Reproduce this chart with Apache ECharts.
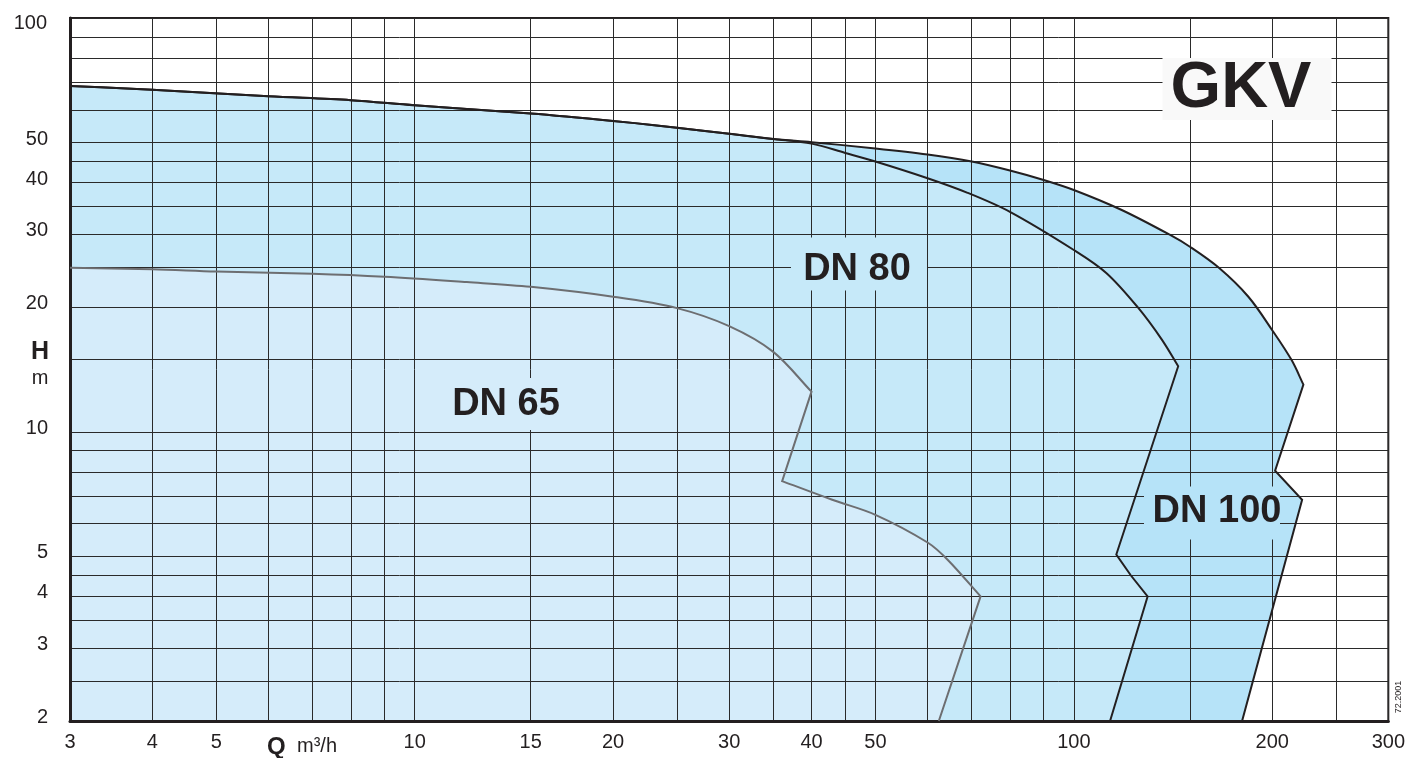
<!DOCTYPE html>
<html><head><meta charset="utf-8">
<script src="https://cdn.jsdelivr.net/npm/echarts@6/dist/echarts.min.js"></script>
<style>html,body{margin:0;padding:0;background:#fff}#c{width:1408px;height:758px}</style>
</head><body><div id="c"></div>
<script>
// ---- axis values ----
const xMin = 3, xMax = 300, yMin = 2, yMax = 100;
const xGridValues = [3,4,5,6,7,8,9,10,15,20,25,30,35,40,45,50,60,70,80,90,100,150,200,250,300];
const xTickLabels = [3,4,5,10,15,20,30,40,50,100,200,300];
const yGridValues = [2,2.5,3,3.5,4,4.5,5,6,7,8,9,10,15,20,25,30,35,40,45,50,60,70,80,90,100];
const yTickLabels = [2,3,4,5,10,20,30,40,50];
const yTopLabel = 100;

// ---- curves [Q m3/h, H m] ----
const topCurve = [[3,68.5],[4,67.1],[6,64.7],[8,63.3],[10,61.5],[15,58.8],[20,56.4],[25,54.3],[30,52.5],[35,51.0]];
const dn100Curve = [[40,50.1],[50,48.4],[60,46.8],[70,45.0],[80,42.8],[90,40.6],[100,38.4],[118,34.4],[140,29.9],[150,28.0],[166,24.9],[184,21.2],[200,17.6],[214,14.9],[223,13.0]];
const dn100Foot = [[202,8.05],[222,6.85],[180,2.0]];
const dn80Curve = [[40,49.7],[45,47.2],[50,45.0],[60,41.0],[69,37.8],[80,34.0],[100,27.5],[112,24.2],[125,20.0],[136,16.7],[144,14.4]];
const dn80Foot = [[116,5.05],[122,4.5],[129.4,4.0],[113.5,2.0]];
const dn65Upper = [[3,24.9],[4,24.7],[5,24.4],[7,24.1],[9,23.7],[12,23.0],[15,22.4],[20,21.2],[25,19.9],[30,18.0],[35,15.6],[40,12.5]];
const dn65Lower = [[36.1,7.6],[43,6.85],[50,6.3],[60,5.4],[64.4,4.9],[72.2,4.0]];
const dn65Foot = [[62.4,2.0]];

const regionNames = ['DN 100','DN 80','DN 65'];
const regionColors = ['#b6e3f8','#c6e9f9','#d5ecfa'];

const FONT = "'Liberation Sans', Arial, Helvetica, sans-serif";
const INK = '#231f20';

// outlines as segments: smooth runs and straight runs
const dn100Segs = [{ smooth: true, pts: topCurve.concat(dn100Curve) }, { smooth: false, pts: dn100Foot }];
const dn80Segs = [{ smooth: true, pts: topCurve.concat(dn80Curve) }, { smooth: false, pts: dn80Foot }];
const dn65Segs = [{ smooth: true, pts: dn65Upper }, { smooth: false, pts: [dn65Lower[0]] }, { smooth: true, pts: dn65Lower }, { smooth: false, pts: dn65Foot }];

function f(n) { return n.toFixed(2); }
function dist(a, b) { return Math.hypot(b[0] - a[0], b[1] - a[1]) || 1e-6; }
function buildPath(segs, api, close) {
  let d = '';
  let started = false;
  segs.forEach(seg => {
    const P = seg.pts.map(p => api.coord(p));
    if (seg.smooth) {
      d += (started ? ' L' : 'M') + f(P[0][0]) + ' ' + f(P[0][1]);
      started = true;
      const n = P.length;
      const D = [];
      for (let i = 0; i < n - 1; i++) D.push(dist(P[i], P[i + 1]));
      const M = P.map((p, i) => {
        if (i === 0) return [(P[1][0] - p[0]) / D[0], (P[1][1] - p[1]) / D[0]];
        if (i === n - 1) return [(p[0] - P[i - 1][0]) / D[i - 1], (p[1] - P[i - 1][1]) / D[i - 1]];
        const s = D[i - 1] + D[i];
        return [(P[i + 1][0] - P[i - 1][0]) / s, (P[i + 1][1] - P[i - 1][1]) / s];
      });
      for (let i = 0; i < n - 1; i++) {
        const k = D[i] / 3;
        const c1 = [P[i][0] + M[i][0] * k, P[i][1] + M[i][1] * k];
        const c2 = [P[i + 1][0] - M[i + 1][0] * k, P[i + 1][1] - M[i + 1][1] * k];
        d += ' C' + f(c1[0]) + ' ' + f(c1[1]) + ' ' + f(c2[0]) + ' ' + f(c2[1]) + ' ' + f(P[i + 1][0]) + ' ' + f(P[i + 1][1]);
      }
    } else {
      P.forEach(p => { d += (started ? ' L' : 'M') + f(p[0]) + ' ' + f(p[1]); started = true; });
    }
  });
  if (close) {
    const c = api.coord([xMin, yMin]);
    d += ' L' + f(c[0]) + ' ' + f(c[1]) + ' Z';
  }
  return d;
}
function allPts(segs) { return segs.reduce((a, s) => a.concat(s.pts), []); }

function fillSeries(name, segs, color) {
  return {
    name: name + ' area', type: 'custom', coordinateSystem: 'cartesian2d', z: 1, silent: true,
    data: allPts(segs), encode: { x: 0, y: 1 },
    renderItem: function (params, api) {
      if (params.dataIndex !== 0) return null;
      return { type: 'path', shape: { pathData: buildPath(segs, api, true) }, style: { fill: color, stroke: null } };
    }
  };
}
function outlineSeries(name, segs, color) {
  return {
    name: name, type: 'custom', coordinateSystem: 'cartesian2d', z: 4, silent: true,
    data: allPts(segs), encode: { x: 0, y: 1 },
    renderItem: function (params, api) {
      if (params.dataIndex !== 0) return null;
      return { type: 'path', shape: { pathData: buildPath(segs, api, false) },
        style: { fill: null, stroke: color, lineWidth: 2, lineJoin: 'miter' } };
    }
  };
}

function labelBox(text, bx, by, w, h, tx, ty, fill, fs) {
  return {
    type: 'group', z: 10,
    children: [
      { type: 'rect', shape: { x: bx - w / 2, y: by - h / 2, width: w, height: h }, style: { fill: fill }, z: 10 },
      { type: 'text', x: tx, y: ty, z: 11,
        style: { text: text, fill: INK, font: 'bold ' + fs + 'px ' + FONT, align: 'center', verticalAlign: 'middle' } }
    ]
  };
}

const chart = echarts.init(document.getElementById('c'), null, { renderer: 'canvas' });
chart.setOption({
  animation: false,
  backgroundColor: '#ffffff',
  grid: { left: 70, top: 18, width: 1320, height: 703, show: true, borderColor: INK, borderWidth: 2, backgroundColor: 'transparent' },
  xAxis: {
    type: 'log', logBase: 10, min: xMin, max: xMax, z: 3,
    axisLine: { show: true, onZero: false, lineStyle: { color: INK, width: 3 } },
    axisTick: { show: false, customValues: xGridValues },
    axisLabel: { customValues: xTickLabels, fontSize: 20, color: INK, margin: 11, fontFamily: FONT,
      formatter: v => String(Math.round(v * 10) / 10) },
    splitLine: { show: true, lineStyle: { color: '#2a2a2a', width: 1 } }
  },
  yAxis: {
    type: 'log', logBase: 10, min: yMin, max: yMax, z: 3,
    axisLine: { show: true, onZero: false, lineStyle: { color: INK, width: 3 } },
    axisTick: { show: false, customValues: yGridValues },
    axisLabel: { customValues: yTickLabels, fontSize: 20, color: INK, margin: 22, fontFamily: FONT,
      verticalAlign: 'bottom', lineHeight: 7, formatter: v => String(Math.round(v * 10) / 10) },
    splitLine: { show: true, lineStyle: { color: '#2a2a2a', width: 1 } }
  },
  series: [
    fillSeries(regionNames[0], dn100Segs, regionColors[0]),
    fillSeries(regionNames[1], dn80Segs, regionColors[1]),
    fillSeries(regionNames[2], dn65Segs, regionColors[2]),
    outlineSeries(regionNames[0], dn100Segs, INK),
    outlineSeries(regionNames[1], dn80Segs, INK),
    outlineSeries(regionNames[2], dn65Segs, '#6d6e71')
  ]
});

const topY = chart.convertToPixel({ yAxisIndex: 0 }, yTopLabel);
chart.setOption({
  graphic: [
    labelBox('GKV', 1247, 89, 169, 62, 1241, 89, '#f9f9f9', 65),
    labelBox(regionNames[2], 506, 404, 136, 52, 506, 405, regionColors[2], 38),
    labelBox(regionNames[1], 859, 264, 136, 53, 857, 270, regionColors[1], 38),
    labelBox(regionNames[0], 1212, 513, 136, 53, 1217, 512, regionColors[0], 38),
    { type: 'text', x: 47, y: topY + 5, z: 10, style: { text: String(yTopLabel), fill: INK, font: '20px ' + FONT, align: 'right', verticalAlign: 'middle' } },
    { type: 'text', x: 40, y: 352, z: 10, style: { text: 'H', fill: INK, font: 'bold 25px ' + FONT, align: 'center', verticalAlign: 'middle' } },
    { type: 'text', x: 40, y: 378, z: 10, style: { text: 'm', fill: INK, font: '20px ' + FONT, align: 'center', verticalAlign: 'middle' } },
    { type: 'text', x: 267, y: 747, z: 10, style: { text: 'Q', fill: INK, font: 'bold 24px ' + FONT, align: 'left', verticalAlign: 'middle' } },
    { type: 'text', x: 297, y: 746, z: 10, style: { text: 'm³/h', fill: INK, font: '20px ' + FONT, align: 'left', verticalAlign: 'middle' } },
    { type: 'text', x: 1399, y: 697, z: 10, rotation: Math.PI / 2, style: { text: '72.2001', fill: INK, font: '9px ' + FONT, align: 'center', verticalAlign: 'middle' } }
  ]
});
</script>
</body></html>
